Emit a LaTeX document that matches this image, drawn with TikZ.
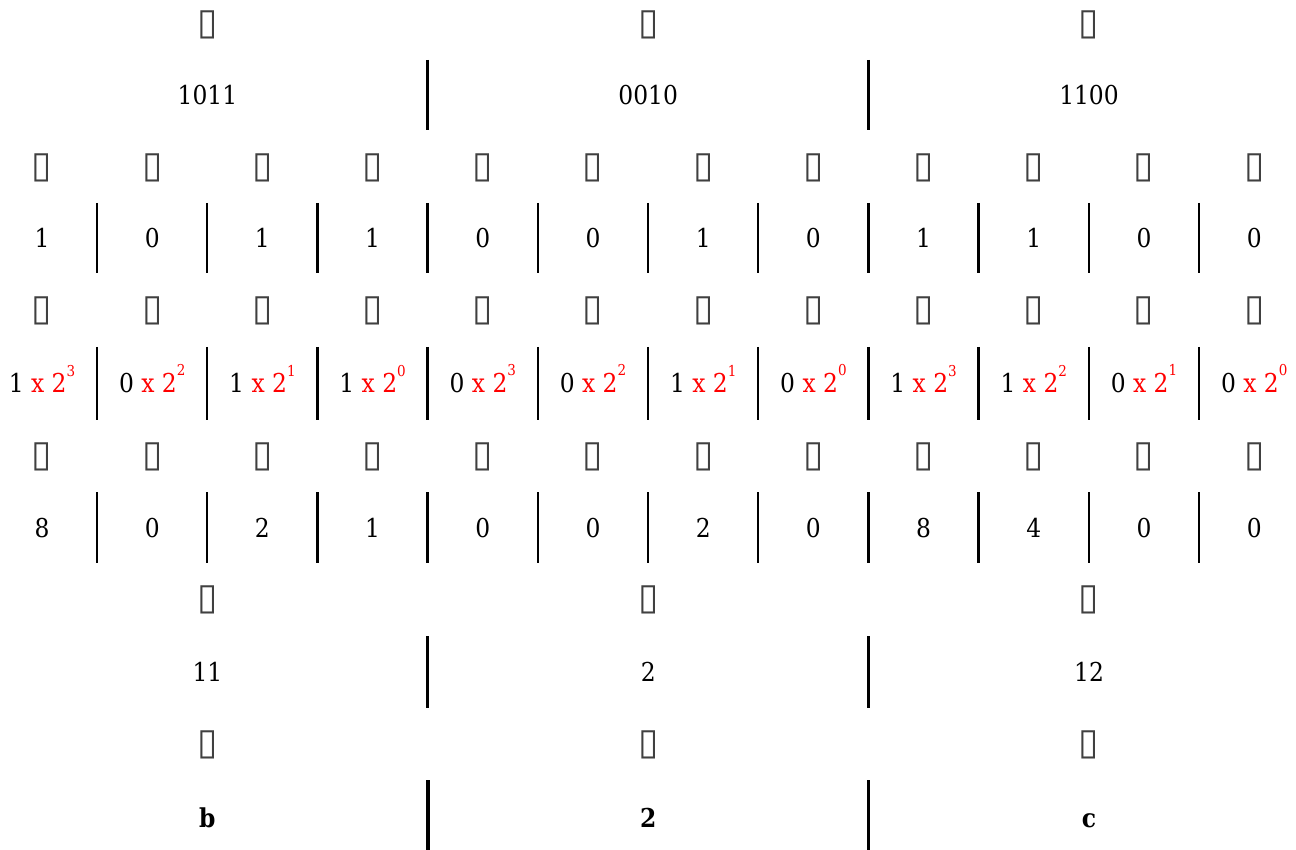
\documentclass[tikz,border=0pt]{standalone}
\usepackage{fontspec}
\setmainfont{DejaVu Serif Condensed}
\newfontfamily\boxfont{DejaVu Sans}
\usetikzlibrary{positioning}
\definecolor{cExp}{HTML}{FF0000}
\tikzset{
  val/.style={font=\fontsize{26}{30}\selectfont,inner sep=0pt},
  hexv/.style={val,anchor=base,font=\fontsize{26}{30}\selectfont\bfseries},
  tofu/.style={font=\boxfont\fontsize{37}{40}\selectfont,text=black!75,inner sep=0pt},
  sep/.style={line width=2.3pt},
  sepb/.style={line width=3.8pt},
}
\newcommand{\pwr}[2]{#1 \textcolor{cExp}{x 2\smash{\raisebox{.64em}{\fontsize{15}{15}\selectfont #2}}}}

\begin{document}
\begin{tikzpicture}[x=1pt,y=-1pt]
  \useasboundingbox (0,0) rectangle (1296,850);
  % nibbles
  \foreach \w [count=\i from 0] in {1011,0010,1100} {
    \node[tofu] (ta\i) at (207.4+440.8*\i,25) {▯};
    \node[val] (nib\i) at (207.4+440.8*\i,95) {\w};
  }
  \foreach \d in {3,7} \draw[sep] (97+110.2*\d,60) -- (97+110.2*\d,130);
  % single bits
  \foreach \b [count=\i from 0] in {1,0,1,1,0,0,1,0,1,1,0,0} {
    \pgfmathtruncatemacro\e{3-mod(\i,4)}
    \node[tofu] (tb\i) at (42+110.2*\i,168) {▯};
    \node[val] (bit\i) at (42+110.2*\i,238) {\b};
    \node[tofu] (tp\i) at (42+110.2*\i,311) {▯};
    \node[val] (pw\i) at (42+110.2*\i,383) {\pwr{\b}{\e}};
  }
  % place values
  \foreach \v [count=\i from 0] in {8,0,2,1,0,0,2,0,8,4,0,0} {
    \node[tofu] (tv\i) at (42+110.2*\i,457) {▯};
    \node[val] (pv\i) at (42+110.2*\i,528) {\v};
  }
  \foreach \ya/\yb in {203/273,347/420,492/563}
    \foreach \d in {0,...,10} \draw[sep] (97+110.2*\d,\ya) -- (97+110.2*\d,\yb);
  % sums and hex digits
  \foreach \s/\h [count=\i from 0] in {11/b,2/2,12/c} {
    \node[tofu] (ts\i) at (207.4+440.8*\i,600) {▯};
    \node[val] (sum\i) at (207.4+440.8*\i,672) {\s};
    \node[tofu] (th\i) at (207.4+440.8*\i,745) {▯};
    \node[hexv] (hex\i) at (207.4+440.8*\i,827) {\h};
  }
  \foreach \d in {3,7} {
    \draw[sep] (97+110.2*\d,636) -- (97+110.2*\d,708);
    \draw[sepb] (97+110.2*\d,780) -- (97+110.2*\d,850);
  }
\end{tikzpicture}
\end{document}
